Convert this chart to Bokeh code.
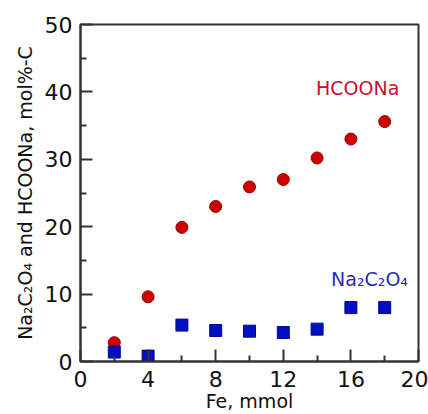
from bokeh.plotting import figure
from bokeh.models import Range1d, FixedTicker, ColumnDataSource, Label
from bokeh.embed import file_html
from bokeh.resources import INLINE

fe = [2, 4, 6, 8, 10, 12, 14, 16, 18]
hcoona = [2.8, 9.6, 19.9, 23.0, 25.9, 27.0, 30.2, 33.0, 35.6]
na2c2o4 = [1.4, 0.8, 5.4, 4.6, 4.5, 4.3, 4.8, 8.0, 8.0]
x_ticks = [0, 4, 8, 12, 16, 20]
y_ticks = [0, 10, 20, 30, 40, 50]

FONT = "DejaVu Sans"

p = figure(width=428, height=414, output_backend="svg", toolbar_location=None,
           x_range=Range1d(0, 20), y_range=Range1d(0, 50),
           min_border_left=80, min_border_right=10, min_border_top=24, min_border_bottom=53)
p.grid.visible = False
p.outline_line_color = "#333333"
p.outline_line_width = 2

for ax in (p.xaxis[0], p.yaxis[0]):
    ax.axis_line_width = 2
    ax.axis_line_color = "#333333"
    ax.major_tick_in = 12
    ax.major_tick_out = 0
    ax.minor_tick_in = 6
    ax.minor_tick_out = 0
    ax.major_tick_line_width = 2
    ax.minor_tick_line_width = 2
    ax.major_tick_line_color = "#333333"
    ax.minor_tick_line_color = "#333333"
    ax.major_label_text_font = FONT
    ax.major_label_text_font_size = "22px"
    ax.major_label_text_color = "#111111"
    ax.axis_label_text_font = FONT
    ax.axis_label_text_font_size = "19px"
    ax.axis_label_text_font_style = "normal"
    ax.axis_label_text_color = "#111111"

p.xaxis.ticker = FixedTicker(ticks=x_ticks, minor_ticks=[2, 6, 10, 14, 18])
p.yaxis.ticker = FixedTicker(ticks=y_ticks, minor_ticks=[5, 15, 25, 35, 45])
p.xaxis.major_label_standoff = 9
p.yaxis.major_label_standoff = 8
p.xaxis.axis_label = "Fe, mmol"
p.yaxis.axis_label = "Na₂C₂O₄ and HCOONa, mol%-C"
p.xaxis.axis_label_standoff = 0
p.yaxis.axis_label_standoff = 6

src = ColumnDataSource(dict(fe=fe, hcoona=hcoona, na2c2o4=na2c2o4))
p.scatter("fe", "hcoona", source=src, marker="circle", size=12,
          fill_color="#cc0000", line_color="#990000")
p.scatter("fe", "na2c2o4", source=src, marker="square", size=12,
          fill_color="#0010c0", line_color="#000a90")

p.add_layout(Label(x=16.4, y=40.6, text="HCOONa", text_color="#c8102e",
                   text_font=FONT, text_font_size="19px",
                   text_align="center", text_baseline="middle"))
p.add_layout(Label(x=17.1, y=12.2, text="Na₂C₂O₄", text_color="#2a2ab8",
                   text_font=FONT, text_font_size="19px",
                   text_align="center", text_baseline="middle"))

open("out.html", "w").write(file_html(p, INLINE))
